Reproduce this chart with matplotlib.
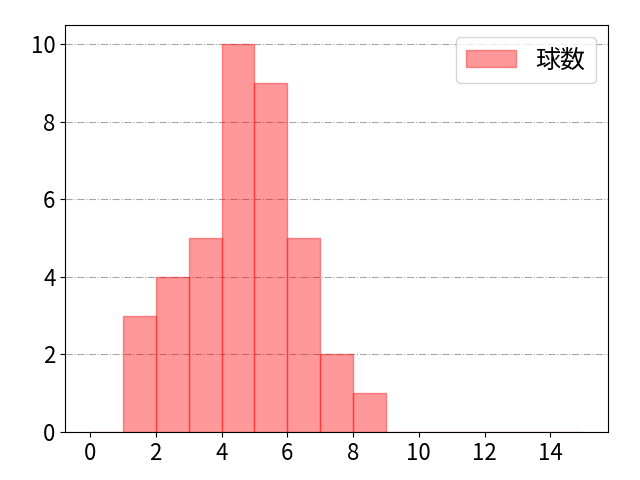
import matplotlib
matplotlib.use("Agg")
import matplotlib.pyplot as plt

plt.rcParams['font.family'] = ['Noto Sans CJK JP', 'DejaVu Sans']

bin_edges = list(range(0, 16))
counts = [0, 3, 4, 5, 10, 9, 5, 2, 1, 0, 0, 0, 0, 0, 0]
label = "球数"

fig, ax = plt.subplots(figsize=(6.4, 4.8), dpi=100)
fig.subplots_adjust(left=0.102, right=0.95, top=0.948, bottom=0.1)
ax.hist(bin_edges[:-1], bins=bin_edges, weights=counts, color='red', alpha=0.4,
        edgecolor='red', linewidth=1, label=label)
ax.set_xticks(range(0, 15, 2))
ax.set_yticks(range(0, 11, 2))
ax.tick_params(labelsize=16)
ax.grid(axis='y', linestyle='-.', color='gray', alpha=0.7)
ax.set_axisbelow(True)
ax.legend(fontsize=18, loc='upper right')
fig.savefig("out.png")
